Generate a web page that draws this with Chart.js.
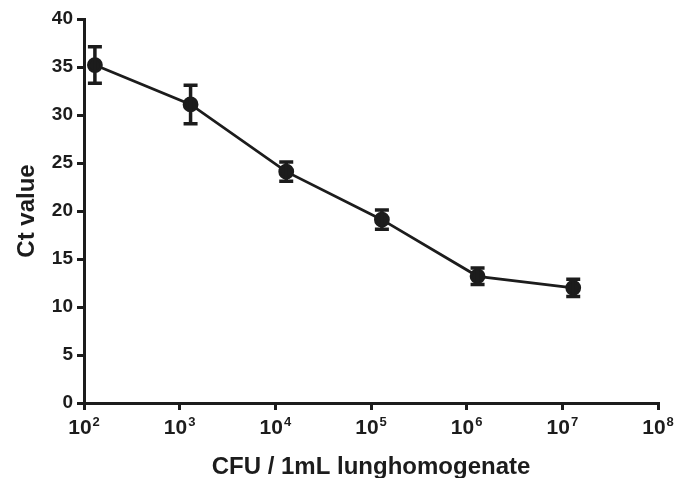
<!DOCTYPE html>
<html>
<head>
<meta charset="utf-8">
<script src="https://cdn.jsdelivr.net/npm/chart.js@4/dist/chart.umd.min.js"></script>
<style>
	html, body { margin: 0; padding: 0; background: #fff; }
	#wrap { width: 688px; height: 478px; }
</style>
</head>
<body>
<div id="wrap"><canvas id="ctChart" width="688" height="478"></canvas></div>
<script>
// CFU per 1mL lung homogenate (x) vs Ct value (mean +/- error)
const cfu = [130, 1300, 13000, 130000, 1300000, 13000000];
const ctMean = [35.2, 31.1, 24.1, 19.1, 13.2, 12.0];
const ctErr = [1.9, 2.0, 1.0, 1.0, 0.85, 0.9];
const xTicks = [1e2, 1e3, 1e4, 1e5, 1e6, 1e7, 1e8];
const yTicks = [0, 5, 10, 15, 20, 25, 30, 35, 40];

const ink = '#1c1c1c';
const fam = '"Liberation Sans", Arial, sans-serif';

(function () {
	const errorBars = {
		id: 'errorBars',
		afterDatasetsDraw(chart) {
			const ctx = chart.ctx;
			const xs = chart.scales.x, ys = chart.scales.y;
			ctx.save();
			ctx.strokeStyle = ink;
			ctx.lineWidth = 3.5;
			cfu.forEach((v, i) => {
				const px = xs.getPixelForValue(v);
				const top = ys.getPixelForValue(ctMean[i] + ctErr[i]);
				const bot = ys.getPixelForValue(ctMean[i] - ctErr[i]);
				ctx.beginPath();
				ctx.moveTo(px, top); ctx.lineTo(px, bot);
				ctx.moveTo(px - 7, top); ctx.lineTo(px + 7, top);
				ctx.moveTo(px - 7, bot); ctx.lineTo(px + 7, bot);
				ctx.stroke();
			});
			ctx.restore();
		}
	};

	// power-of-ten labels with a raised exponent
	const powLabels = {
		id: 'powLabels',
		afterDraw(chart) {
			const ctx = chart.ctx;
			const xs = chart.scales.x;
			const base = xs.top + 31;
			ctx.save();
			ctx.fillStyle = ink;
			ctx.textBaseline = 'alphabetic';
			ctx.textAlign = 'left';
			xTicks.forEach(v => {
				const px = xs.getPixelForValue(v);
				const exp = String(Math.round(Math.log10(v)));
				ctx.font = 'bold 21px ' + fam;
				const w1 = ctx.measureText('10').width;
				ctx.font = 'bold 13px ' + fam;
				const w2 = ctx.measureText(exp).width;
				const x0 = px - (w1 + w2 + 1) / 2;
				ctx.font = 'bold 21px ' + fam;
				ctx.fillText('10', x0, base);
				ctx.font = 'bold 13px ' + fam;
				ctx.fillText(exp, x0 + w1 + 1, base - 8);
			});
			ctx.restore();
		}
	};

	const tickFont = { family: fam, size: 19, weight: 'bold' };
	const titleFont = { family: fam, size: 24, weight: 'bold' };

	new Chart(document.getElementById('ctChart'), {
		type: 'line',
		data: {
			datasets: [{
				data: cfu.map((v, i) => ({ x: v, y: ctMean[i] })),
				borderColor: ink,
				borderWidth: 2.8,
				pointRadius: 6.5,
				pointBackgroundColor: ink,
				pointBorderColor: ink,
				tension: 0,
				fill: false
			}]
		},
		options: {
			responsive: false,
			animation: false,
			layout: { padding: { top: 19, right: 30, left: 13, bottom: 0 } },
			plugins: { legend: { display: false }, tooltip: { enabled: false } },
			scales: {
				x: {
					type: 'logarithmic',
					min: 1e2, max: 1e8,
					afterBuildTicks: s => { s.ticks = xTicks.map(v => ({ value: v })); },
					afterFit: s => { s.height = 75; },
					ticks: { color: ink, font: tickFont, padding: 2, maxRotation: 0, autoSkip: false, callback: () => '' },
					grid: { drawOnChartArea: false, color: ink, lineWidth: 3, tickLength: 7 },
					border: { color: ink, width: 3 },
					title: { display: true, text: 'CFU / 1mL lunghomogenate', color: ink, font: titleFont, padding: { top: 18, bottom: -4 } }
				},
				y: {
					min: 0, max: 40,
					afterBuildTicks: s => { s.ticks = yTicks.map(v => ({ value: v })); },
					afterFit: s => { s.width = 71; },
					ticks: { color: ink, font: tickFont, padding: 4 },
					grid: { drawOnChartArea: false, color: ink, lineWidth: 3, tickLength: 7 },
					border: { color: ink, width: 3 },
					title: { display: true, text: 'Ct value', color: ink, font: titleFont, padding: { top: 0, bottom: 6 } }
				}
			}
		},
		plugins: [errorBars, powLabels]
	});
})();
</script>
</body>
</html>
